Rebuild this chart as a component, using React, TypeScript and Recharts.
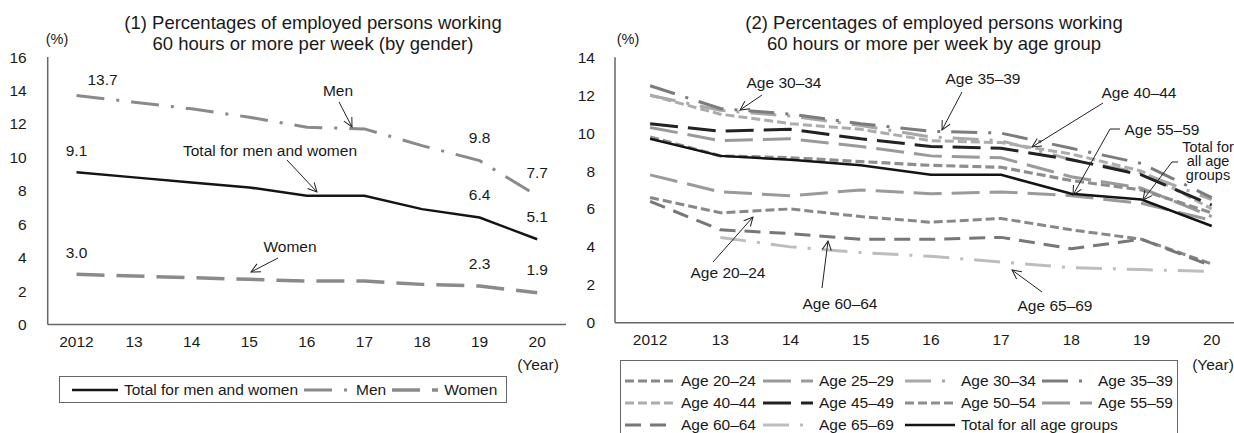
import React from "react";
import { LineChart, Line, XAxis, YAxis, LabelList } from "recharts";

const years = ["2012", "13", "14", "15", "16", "17", "18", "19", "20"];

// (1) by gender
const totalMenWomen = [9.1, 8.8, 8.5, 8.2, 7.7, 7.7, 6.9, 6.4, 5.1];
const men = [13.7, 13.3, 12.9, 12.4, 11.8, 11.7, 10.7, 9.8, 7.7];
const women = [3.0, 2.9, 2.8, 2.7, 2.6, 2.6, 2.4, 2.3, 1.9];

// (2) by age group
const age2024 = [6.6, 5.8, 6.0, 5.6, 5.3, 5.5, 4.9, 4.4, 3.1];
const age2529 = [10.3, 9.6, 9.7, 9.3, 8.8, 8.7, 7.7, 7.1, 5.6];
const age3034 = [12.0, 11.2, 10.9, 10.4, 9.8, 9.6, 8.6, 7.9, 6.5];
const age3539 = [12.5, 11.3, 11.0, 10.5, 10.1, 10.0, 9.2, 8.4, 6.6];
const age4044 = [12.0, 11.0, 10.5, 10.2, 9.6, 9.5, 8.9, 8.0, 6.0];
const age4549 = [10.5, 10.1, 10.2, 9.7, 9.3, 9.2, 8.6, 7.8, 6.2];
const age5054 = [9.8, 8.8, 8.7, 8.5, 8.3, 8.2, 7.5, 7.0, 5.8];
const age5559 = [7.8, 6.9, 6.7, 7.0, 6.8, 6.9, 6.7, 6.3, 5.4];
const age6064 = [6.4, 4.9, 4.7, 4.4, 4.4, 4.5, 3.9, 4.4, 3.0];
const age6569 = [null, 4.5, 4.0, 3.7, 3.5, 3.2, 2.9, 2.8, 2.7];
const ageTotal = [9.7, 8.8, 8.6, 8.3, 7.8, 7.8, 6.8, 6.5, 5.1];

const leftTicks = [0, 2, 4, 6, 8, 10, 12, 14, 16];
const rightTicks = [0, 2, 4, 6, 8, 10, 12, 14];

const genderData = years.map((year, i) => ({
  year,
  total: totalMenWomen[i],
  men: men[i],
  women: women[i],
}));

const ageData = years.map((year, i) => ({
  year,
  a2024: age2024[i],
  a2529: age2529[i],
  a3034: age3034[i],
  a3539: age3539[i],
  a4044: age4044[i],
  a4549: age4549[i],
  a5054: age5054[i],
  a5559: age5559[i],
  a6064: age6064[i],
  a6569: age6569[i],
  total: ageTotal[i],
}));

const FONT = '"Liberation Sans", Arial, Helvetica, sans-serif';
const TXT = "#1a1a1a";
const FRAME = "#666";
const FS = 15.5;

const genderSeries = [
  { key: "women", name: "Women", color: "#8a8a8a", width: 3.5, dash: "28 12" },
  { key: "men", name: "Men", color: "#8a8a8a", width: 3, dash: "28 12 3 12" },
  { key: "total", name: "Total for men and women", color: "#141414", width: 2.5, dash: undefined },
];
const genderLegendOrder = ["total", "men", "women"];

const ageSeries = [
  { key: "a6569", name: "Age 65\u201369", color: "#bdbdbd", width: 3, dash: "26 11 3 11" },
  { key: "a3034", name: "Age 30\u201334", color: "#a8a8a8", width: 3, dash: "26 11 3 11" },
  { key: "a4044", name: "Age 40\u201344", color: "#acacac", width: 3, dash: "9 4" },
  { key: "a2529", name: "Age 25\u201329", color: "#9a9a9a", width: 3, dash: "28 10" },
  { key: "a5559", name: "Age 55\u201359", color: "#9a9a9a", width: 3, dash: "28 10" },
  { key: "a5054", name: "Age 50\u201354", color: "#8e8e8e", width: 3.2, dash: "9 4" },
  { key: "a2024", name: "Age 20\u201324", color: "#888", width: 3, dash: "9 4" },
  { key: "a3539", name: "Age 35\u201339", color: "#7c7c7c", width: 3, dash: "26 11 3 11" },
  { key: "a6064", name: "Age 60\u201364", color: "#777", width: 3, dash: "16 9" },
  { key: "a4549", name: "Age 45\u201349", color: "#222", width: 3, dash: "28 10" },
  { key: "total", name: "Total for all age groups", color: "#141414", width: 2.5, dash: undefined },
];
const ageLegendOrder = [
  ["a2024", "a2529", "a3034", "a3539"],
  ["a4044", "a4549", "a5054", "a5559"],
  ["a6064", "a6569", "total"],
];

const tickStyle = { fill: TXT, fontSize: FS, fontFamily: FONT };

// value labels on the gender chart: first, 2019 and 2020 points
const labelFor = (firstOffset: [number, number]) => (props: any) => {
  const { x, y, value, index } = props;
  if (![0, 7, 8].includes(index)) return null;
  const [dx, dy] = index === 0 ? firstOffset : [0, -23];
  return (
    <text
      x={x + dx}
      y={y + dy}
      textAnchor="middle"
      dominantBaseline="central"
      fill={TXT}
      fontSize={FS}
      fontFamily={FONT}
    >
      {Number(value).toFixed(1)}
    </text>
  );
};

function Sample({ s, w = 46 }: { s: any; w?: number }) {
  return (
    <svg width={w} height={10} style={{ flex: "none" }}>
      <line
        x1={0}
        y1={5}
        x2={w}
        y2={5}
        stroke={s.color}
        strokeWidth={s.width}
        strokeDasharray={s.dash}
      />
    </svg>
  );
}

function GenderChart() {
  return (
    <LineChart
      width={600}
      height={433}
      data={genderData}
      margin={{ top: 57, right: 34, bottom: 78.5, left: 0 }}
    >
      <XAxis
        dataKey="year"
        padding={{ left: 28.8, right: 28.8 }}
        interval={0}
        height={30}
        tickSize={0}
        tickMargin={11}
        tickLine={false}
        axisLine={{ stroke: FRAME, strokeWidth: 1.5 }}
        tick={tickStyle}
      />
      <XAxis
        xAxisId="top"
        orientation="top"
        dataKey="year"
        height={0}
        tick={false}
        tickLine={false}
        axisLine={{ stroke: FRAME, strokeWidth: 1.5 }}
      />
      <YAxis
        domain={[0, 16]}
        ticks={leftTicks}
        width={47.7}
        interval={0}
        tickSize={0}
        tickMargin={21}
        tickLine={false}
        axisLine={{ stroke: FRAME, strokeWidth: 1.5 }}
        tick={tickStyle}
      />
      <YAxis
        yAxisId="right"
        orientation="right"
        width={0}
        domain={[0, 16]}
        tick={false}
        tickLine={false}
        axisLine={{ stroke: FRAME, strokeWidth: 1.5 }}
      />
      {genderSeries.map((s) => (
        <Line
          key={s.key}
          dataKey={s.key}
          type="linear"
          stroke={s.color}
          strokeWidth={s.width}
          strokeDasharray={s.dash}
          dot={false}
          activeDot={false}
          isAnimationActive={false}
        >
          <LabelList
            dataKey={s.key}
            content={labelFor(s.key === "men" ? [26, -15.5] : [0, -22])}
          />
        </Line>
      ))}
    </LineChart>
  );
}

function AgeChart() {
  return (
    <LineChart
      width={700}
      height={433}
      data={ageData}
      margin={{ top: 57.3, right: 13.2, bottom: 80.3, left: 0 }}
    >
      <XAxis
        dataKey="year"
        padding={{ left: 35.1, right: 35.1 }}
        interval={0}
        height={30}
        tickSize={0}
        tickMargin={11}
        tickLine={false}
        axisLine={{ stroke: FRAME, strokeWidth: 1.5 }}
        tick={tickStyle}
      />
      <XAxis
        xAxisId="top"
        orientation="top"
        dataKey="year"
        height={0}
        tick={false}
        tickLine={false}
        axisLine={{ stroke: FRAME, strokeWidth: 1.5 }}
      />
      <YAxis
        domain={[0, 14]}
        ticks={rightTicks}
        width={55}
        interval={0}
        tickSize={0}
        tickMargin={20}
        tickLine={false}
        axisLine={{ stroke: FRAME, strokeWidth: 1.5 }}
        tick={tickStyle}
      />
      {ageSeries.map((s) => (
        <Line
          key={s.key}
          dataKey={s.key}
          type="linear"
          stroke={s.color}
          strokeWidth={s.width}
          strokeDasharray={s.dash}
          dot={false}
          activeDot={false}
          connectNulls={false}
          isAnimationActive={false}
        />
      ))}
    </LineChart>
  );
}

function Annotations() {
  const t = (x: number, y: number, s: string, size = FS) => (
    <text
      x={x}
      y={y}
      textAnchor="middle"
      dominantBaseline="central"
      fontSize={size}
      fontFamily={FONT}
      fill={TXT}
    >
      {s}
    </text>
  );
  const arrow = (pts: number[][]) => (
    <polyline
      points={pts.map((p) => p.join(",")).join(" ")}
      fill="none"
      stroke="#222"
      strokeWidth={1}
      markerEnd="url(#arr)"
    />
  );
  return (
    <svg
      width={1234}
      height={433}
      style={{ position: "absolute", left: 0, top: 0, pointerEvents: "none" }}
    >
      <defs>
        <marker
          id="arr"
          markerWidth={12}
          markerHeight={12}
          refX={10}
          refY={6}
          orient="auto"
          markerUnits="userSpaceOnUse"
        >
          <path d="M1,1.5 L10,6 L1,10.5" fill="none" stroke="#222" strokeWidth={1} />
        </marker>
      </defs>
      {/* titles */}
      {t(313, 22, "(1) Percentages of employed persons working", 18.5)}
      {t(313, 43, "60 hours or more per week (by gender)", 18.5)}
      {t(934, 22, "(2) Percentages of employed persons working", 18.5)}
      {t(934, 43, "60 hours or more per week by age group", 18.5)}
      {t(57, 39, "(%)", 14.5)}
      {t(628, 39, "(%)", 14.5)}
      {t(538, 364, "(Year)")}
      {t(1213, 364, "(Year)")}

      {/* gender chart callouts */}
      {t(338, 90, "Men")}
      {arrow([[339, 102], [352, 127]])}
      {t(270, 150, "Total for men and women")}
      {arrow([[287, 160], [317, 192]])}
      {t(290, 246, "Women")}
      {arrow([[278, 258], [251, 272]])}

      {/* age chart callouts */}
      {t(784, 82, "Age 30\u201334")}
      {arrow([[762, 95], [740, 110]])}
      {t(983, 78, "Age 35\u201339")}
      {arrow([[962, 92], [942, 130]])}
      {t(1139, 92, "Age 40\u201344")}
      {arrow([[1103, 103], [1032, 147]])}
      {t(1162, 129, "Age 55\u201359")}
      {arrow([[1120, 129], [1110, 129], [1073, 195]])}
      {t(1208, 147, "Total for", 14.5)}
      {t(1208, 161, "all age", 14.5)}
      {t(1208, 175, "groups", 14.5)}
      {arrow([[1178, 162], [1172, 162], [1143, 200]])}
      {t(728, 272, "Age 20\u201324")}
      {arrow([[713, 262], [753, 217]])}
      {t(840, 303, "Age 60\u201364")}
      {arrow([[822, 288], [828, 241]])}
      {t(1055, 305, "Age 65\u201369")}
      {arrow([[1042, 292], [1012, 270]])}
    </svg>
  );
}

function GenderLegend() {
  return (
    <div
      style={{
        position: "absolute",
        left: 59,
        top: 376,
        width: 448,
        height: 27,
        boxSizing: "border-box",
        border: "1px solid #666",
        display: "flex",
        alignItems: "center",
        paddingLeft: 12,
        fontFamily: FONT,
        fontSize: FS,
        color: TXT,
        whiteSpace: "nowrap",
        background: "#fff",
      }}
    >
      {genderLegendOrder.map((k) => {
        const s = genderSeries.find((g) => g.key === k)!;
        return (
          <div key={k} style={{ display: "flex", alignItems: "center", marginRight: 6 }}>
            <Sample s={s} />
            <span style={{ marginLeft: 6 }}>{s.name}</span>
          </div>
        );
      })}
    </div>
  );
}

function AgeLegend() {
  const colX = [0, 138, 280, 417];
  return (
    <div
      style={{
        position: "absolute",
        left: 620,
        top: 360,
        width: 558,
        height: 90,
        boxSizing: "border-box",
        border: "1px solid #666",
        fontFamily: FONT,
        fontSize: FS,
        color: TXT,
        whiteSpace: "nowrap",
        background: "#fff",
      }}
    >
      {ageLegendOrder.map((row, r) =>
        row.map((k, c) => {
          const s = ageSeries.find((g) => g.key === k)!;
          return (
            <div
              key={k}
              style={{
                position: "absolute",
                left: 4 + colX[c],
                top: 10 + r * 22,
                height: 20,
                display: "flex",
                alignItems: "center",
              }}
            >
              <Sample s={s} w={50} />
              <span style={{ marginLeft: 6 }}>{s.name}</span>
            </div>
          );
        })
      )}
    </div>
  );
}

export default function App() {
  return (
    <div
      style={{
        position: "absolute",
        left: 0,
        top: 0,
        width: 1234,
        height: 433,
        overflow: "hidden",
        background: "#fff",
        fontFamily: FONT,
      }}
    >
      <div style={{ position: "absolute", left: 0, top: 0 }}>
        <GenderChart />
      </div>
      <div style={{ position: "absolute", left: 560, top: 0 }}>
        <AgeChart />
      </div>
      <GenderLegend />
      <AgeLegend />
      <Annotations />
    </div>
  );
}
